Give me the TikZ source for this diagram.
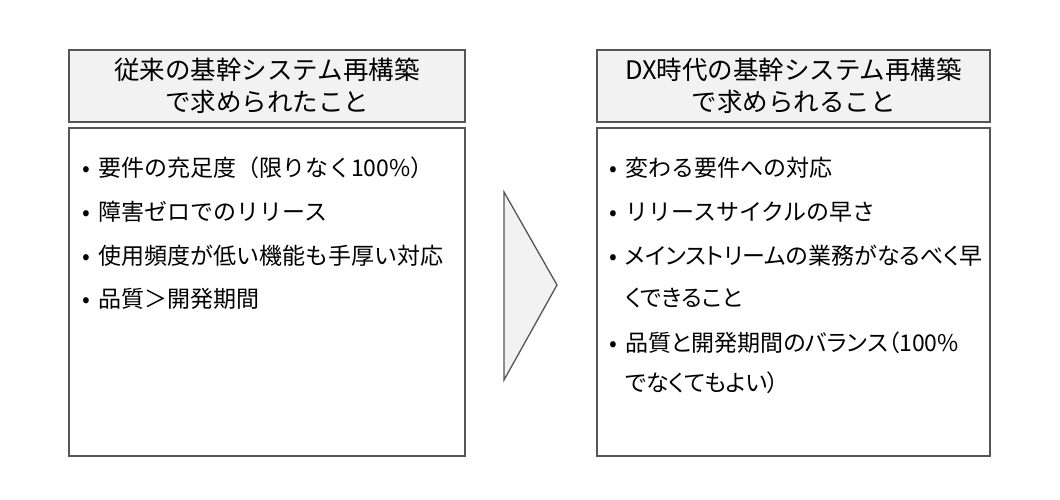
\documentclass[tikz,border=0pt]{standalone}
\usepackage{fontspec}
\newfontfamily\jp{Noto Sans CJK JP}
\newfontfamily\jpp[RawFeature=+palt]{Noto Sans CJK JP}
\definecolor{hdrfill}{HTML}{F2F2F2}
\definecolor{edge}{HTML}{555555}
\tikzset{
  hdr/.style={draw=edge, line width=1.4pt, fill=hdrfill},
  bodybox/.style={draw=edge, line width=1.4pt, fill=white},
  title/.style={font={\jp\fontsize{25.5}{32}\selectfont}, align=center, text=black, inner sep=0pt},
  item/.style={font={\jp\fontsize{23}{42}\selectfont}, align=left, anchor=base west, inner sep=0pt, text=black},
  narrow/.style={font={\jpp\fontsize{23}{42}\selectfont}},
  bul/.style={font={\jp\fontsize{23}{42}\selectfont}, anchor=base, inner sep=0pt, text=black},
}
\begin{document}
\begin{tikzpicture}[x=1pt,y=-1pt]
\useasboundingbox (0,0) rectangle (1060,500);
% left column
\draw[hdr] (69,50) rectangle (465,122);
\node[title] (lt) at (267,86) {従来の基幹システム再構築\\で求められたこと};
\draw[bodybox] (69,128) rectangle (465,456);
\node[bul] (lb1) at (86,176) {•};
\node[item] (li1) at (98,176) {要件の充足度（限りなく100\%）};
\node[bul] (lb2) at (86,220) {•};
\node[item] (li2) at (98,220) {障害ゼロでのリリース};
\node[bul] (lb3) at (86,264) {•};
\node[item] (li3) at (98,264) {使用頻度が低い機能も手厚い対応};
\node[bul] (lb4) at (86,307) {•};
\node[item] (li4) at (98,307) {品質＞開発期間};
% arrow
\draw[hdr, line width=1.3pt, line join=miter] (504,192) -- (557,285) -- (504,380) -- cycle;
% right column
\draw[hdr] (597,50) rectangle (990,122);
\node[title] (rt) at (793.5,86) {DX時代の基幹システム再構築\\で求められること};
\draw[bodybox] (597,128) rectangle (990,456);
\node[bul] (rb1) at (613,176) {•};
\node[item] (ri1) at (625,176) {変わる要件への対応};
\node[bul] (rb2) at (613,220) {•};
\node[item] (ri2) at (625,220) {リリースサイクルの早さ};
\node[bul] (rb3) at (613,264) {•};
\node[item, narrow] (ri3) at (625,306) {メインストリームの業務がなるべく早\\くできること};
\node[bul] (rb4) at (613,351) {•};
\node[item, narrow] (ri4) at (625,391) {品質と開発期間のバランス（100\%\\[-2pt]でなくてもよい）};
\end{tikzpicture}
\end{document}
